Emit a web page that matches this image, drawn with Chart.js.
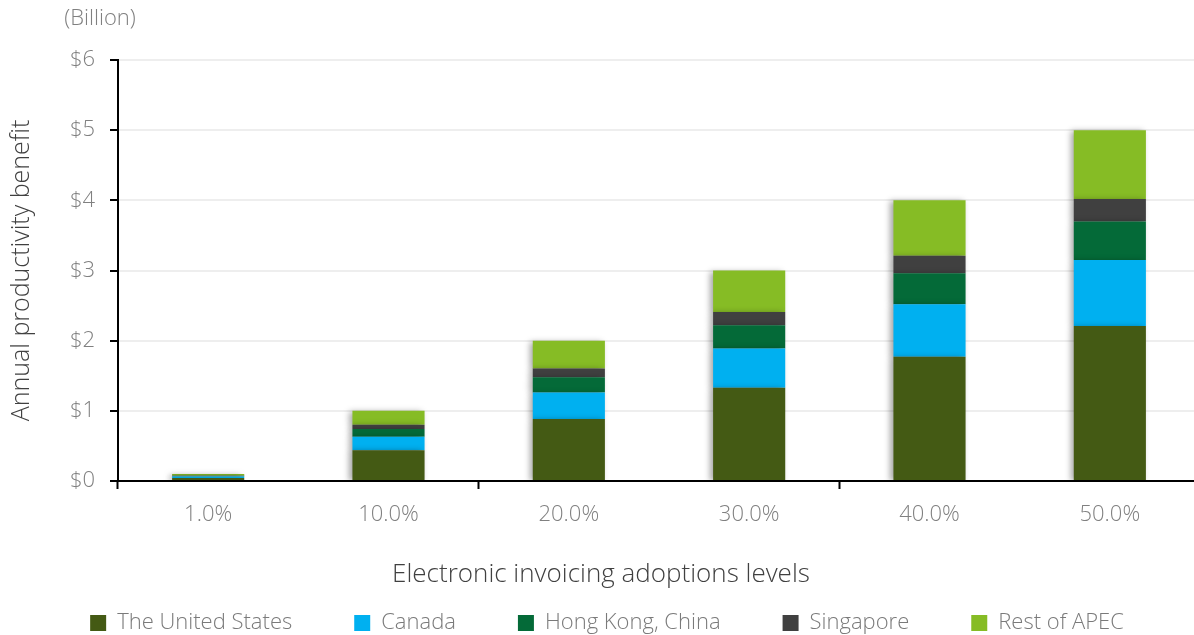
<!DOCTYPE html>
<html>
<head>
<meta charset="utf-8">
<script src="https://cdn.jsdelivr.net/npm/chart.js@4.4.1/dist/chart.umd.min.js"></script>
<style>
  html, body { margin: 0; padding: 0; background: #fff; overflow: hidden; }
  #wrap { width: 1200px; height: 644px; }
</style>
</head>
<body>
<div id="wrap"><canvas id="myChart"></canvas></div>
<script>
// adoption levels on the x axis
const levels = ["1.0%", "10.0%", "20.0%", "30.0%", "40.0%", "50.0%"];

// annual productivity benefit, $ billion, per economy
const unitedStates = [0.044, 0.44, 0.885, 1.33, 1.77, 2.21];
const canada = [0.019, 0.19, 0.375, 0.56, 0.75, 0.94];
const hongKong = [0.011, 0.11, 0.22, 0.33, 0.44, 0.55];
const singapore = [0.006, 0.06, 0.125, 0.19, 0.25, 0.32];
const restOfApec = [0.02, 0.20, 0.395, 0.59, 0.79, 0.98];

const yTicks = [0, 1, 2, 3, 4, 5, 6];

const FONT = "'Open Sans', 'Noto Sans', sans-serif";

// soft shadow behind the bars
const barShadow = {
    id: "barShadow",
    beforeDatasetsDraw(chart) {
        const ctx = chart.ctx;
        ctx.save();
        ctx.shadowColor = "rgba(0,0,0,0.35)";
        ctx.shadowBlur = 6;
        ctx.shadowOffsetX = -3;
        ctx.shadowOffsetY = 1;
    },
    afterDatasetsDraw(chart) {
        chart.ctx.restore();
    },
};

// unit note above the y axis and the x axis caption
const extraText = {
    id: "extraText",
    afterDraw(chart) {
        const ctx = chart.ctx;
        ctx.save();
        ctx.textAlign = "center";
        ctx.textBaseline = "middle";
        ctx.font = "300 22px " + FONT;
        ctx.fillStyle = "#808080";
        ctx.fillText("(Billion)", 100, 19);
        ctx.font = "300 26px " + FONT;
        ctx.fillStyle = "#404040";
        ctx.fillText("Electronic invoicing adoptions levels", 601, 575);
        ctx.restore();
    },
};

new Chart("myChart", {
    type: "bar",
    data: {
        labels: levels,
        datasets: [
            { label: "The United States", data: unitedStates, backgroundColor: "#445A14" },
            { label: "Canada", data: canada, backgroundColor: "#00B0F0" },
            { label: "Hong Kong, China", data: hongKong, backgroundColor: "#046A38" },
            { label: "Singapore", data: singapore, backgroundColor: "#404040" },
            { label: "Rest of APEC", data: restOfApec, backgroundColor: "#86BC25" },
        ],
    },
    plugins: [barShadow, extraText],
    options: {
        responsive: true,
        maintainAspectRatio: false,
        animation: false,
        datasets: { bar: { barPercentage: 0.4, categoryPercentage: 1.0 } },
        layout: { padding: { top: 60, left: 14, right: 0, bottom: 0 } },
        plugins: {
            legend: {
                position: "bottom",
                labels: {
                    boxWidth: 16,
                    boxHeight: 16,
                    padding: 62,
                    color: "#7a7a7a",
                    font: { family: FONT, size: 22, weight: 300 },
                },
            },
            tooltip: { enabled: false },
        },
        scales: {
            x: {
                stacked: true,
                afterFit: (scale) => {
                    scale.height = 69;
                },
                grid: {
                    offset: true,
                    drawOnChartArea: false,
                    tickLength: 8,
                    tickWidth: 2,
                    tickColor: (c) => (c.index % 2 === 0 ? "#000" : "rgba(0,0,0,0)"),
                },
                border: { color: "#000", width: 2 },
                ticks: {
                    color: "#808080",
                    padding: 13,
                    font: { family: FONT, size: 22, weight: 300 },
                },
            },
            y: {
                stacked: true,
                min: 0,
                max: 6,
                afterFit: (scale) => {
                    scale.width = 104;
                },
                afterBuildTicks: (axis) => {
                    axis.ticks = yTicks.map((v) => ({ value: v }));
                },
                grid: {
                    color: "#eeeeee",
                    lineWidth: 2,
                    tickColor: "#000",
                    tickLength: 8,
                    tickWidth: 2,
                },
                border: { color: "#000", width: 2 },
                ticks: {
                    color: "#808080",
                    padding: 15,
                    font: { family: FONT, size: 22, weight: 300 },
                    callback: (v) => "$" + v,
                },
                title: {
                    display: true,
                    text: "Annual productivity benefit",
                    color: "#404040",
                    padding: { top: -7, bottom: 0 },
                    font: { family: FONT, size: 25, weight: 300 },
                },
            },
        },
    },
});
</script>
</body>
</html>
